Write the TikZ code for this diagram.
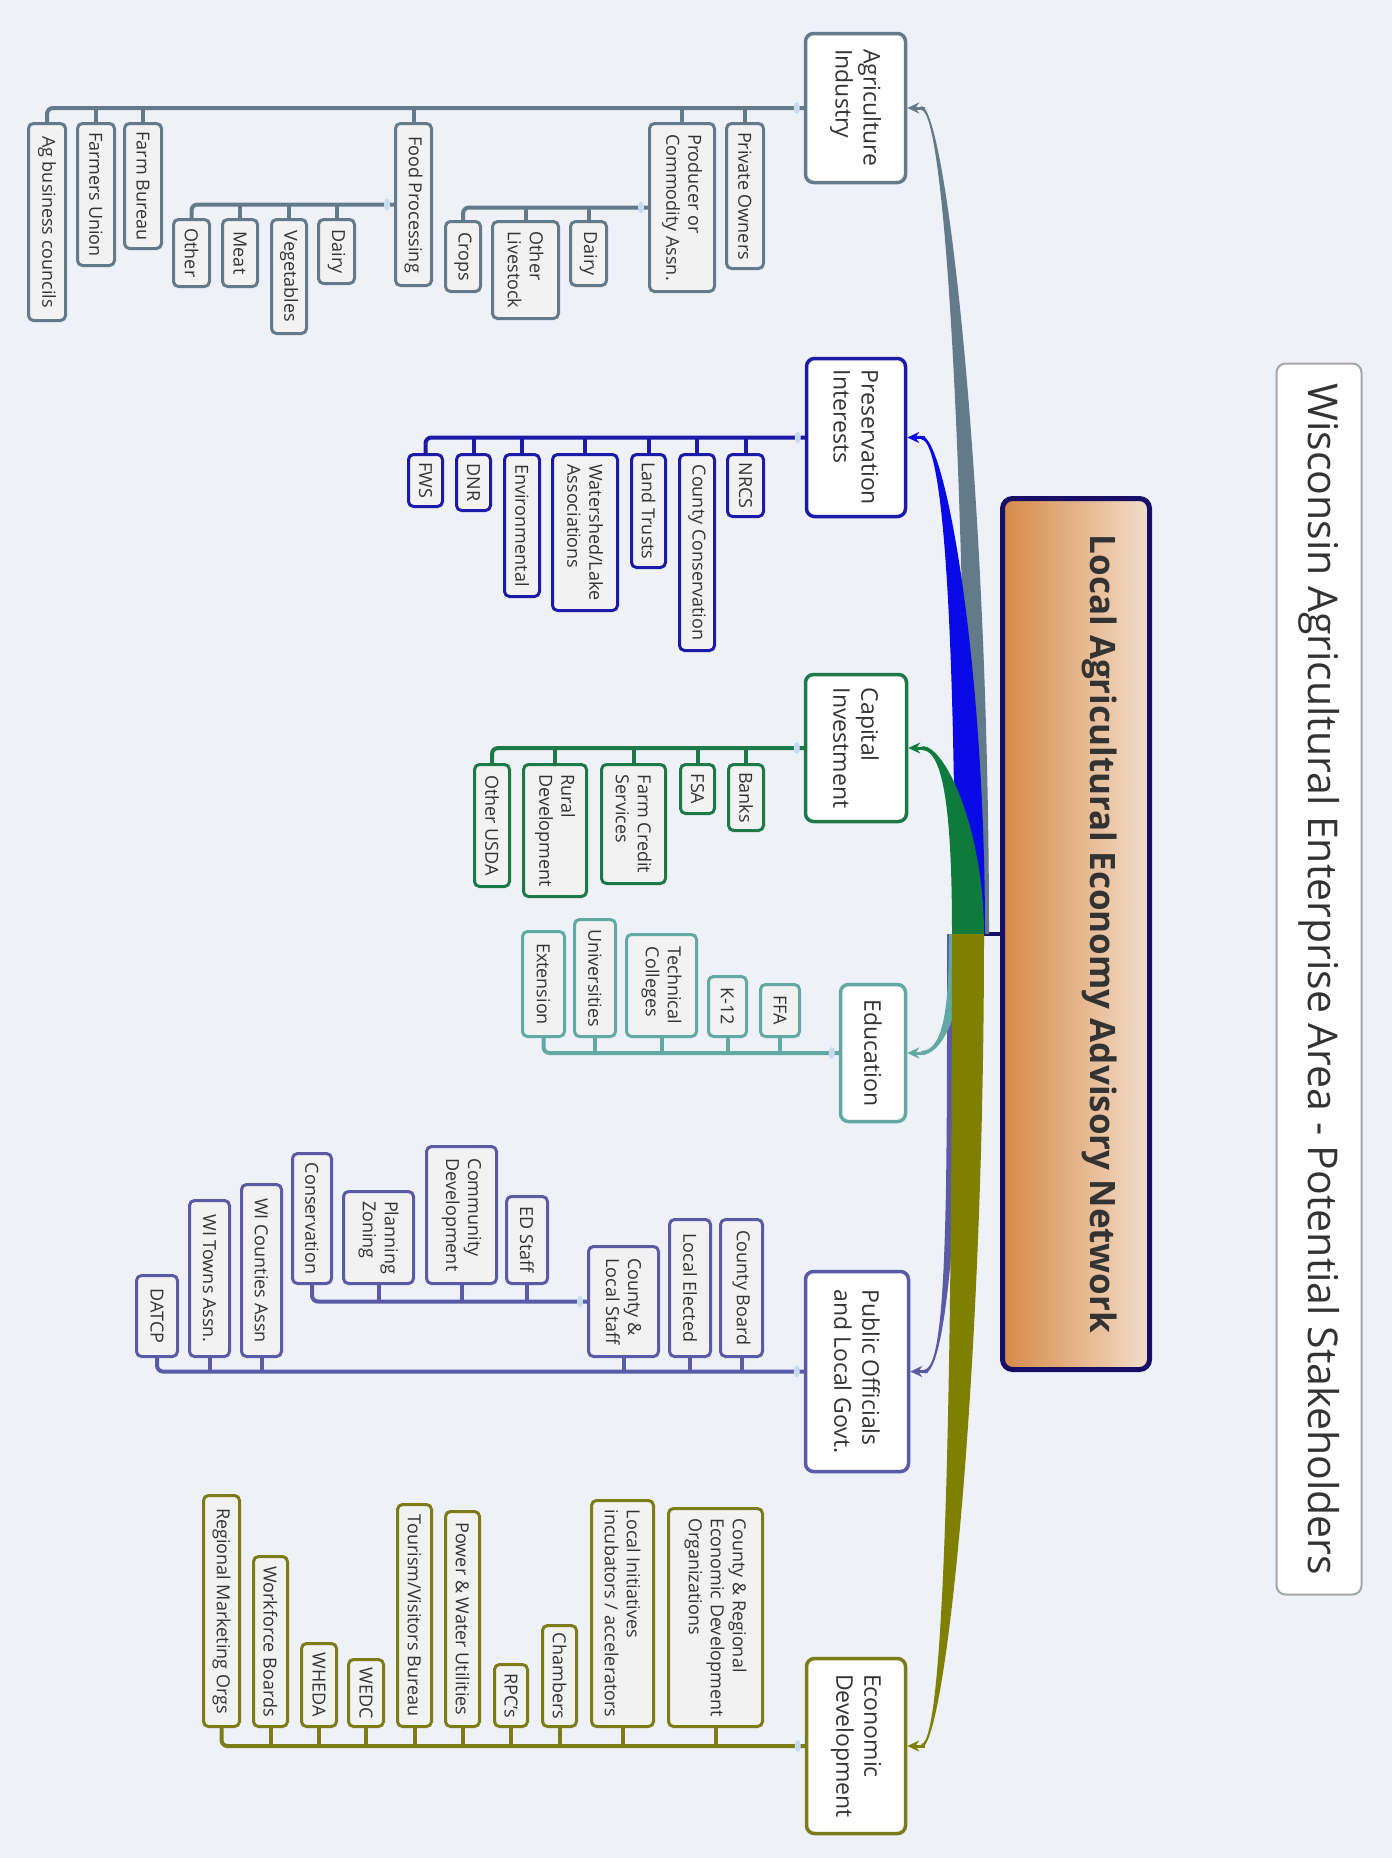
\documentclass[tikz,border=0pt]{standalone}
\usepackage{fontspec}
\setmainfont{Open Sans}
\usepackage{tikz}
\usetikzlibrary{arrows.meta}

\definecolor{paper}{HTML}{EEF1F8}
\definecolor{ink}{HTML}{333333}
\definecolor{frame}{HTML}{A6A6A6}
\definecolor{navy}{HTML}{170F66}
\definecolor{tan}{HTML}{D68947}
\definecolor{peach}{HTML}{F2DECB}
\definecolor{knobcol}{HTML}{C6DBF0}
\definecolor{agcol}{HTML}{627A8A}
\definecolor{prescol}{HTML}{1B1BA8}
\definecolor{presband}{HTML}{0A0AE6}
\definecolor{capcol}{HTML}{1D7A48}
\definecolor{capband}{HTML}{0E7A3C}
\definecolor{educol}{HTML}{62A8A3}
\definecolor{pubcol}{HTML}{5A5AA6}
\definecolor{ecocol}{HTML}{7C7C18}
\definecolor{ecoband}{HTML}{808000}

\tikzset{
  kid/.style={rotate=-90, draw=#1, line width=3pt, rounded corners=5pt, fill=white!95!black,
    inner sep=1pt, align=left, text=ink, font=\fontsize{18}{22}\selectfont},
  topic/.style={rotate=-90, draw=#1, line width=3.5pt, rounded corners=8pt, fill=white,
    inner sep=2pt, align=left, text=ink, font=\fontsize{23}{28}\selectfont},
  dims/.style 2 args={minimum width=#1pt, minimum height=#2pt},
  wire/.style={draw=#1, line width=4pt, rounded corners=6pt},
  pointer/.style={#1, line width=3pt, -{Stealth[length=12pt,width=11pt]}}
}

\begin{document}
\begin{tikzpicture}[x=1pt,y=-1pt]

\fill[paper] (0,0) rectangle (1392,1858);
\useasboundingbox (0,0) rectangle (1392,1858);

\node[rotate=-90, draw=frame, line width=2pt, rounded corners=9pt, fill=white, dims={1231}{85},
  text=ink, font=\fontsize{41}{48}\selectfont] (title) at (1319,979)
  {Wisconsin Agricultural Enterprise Area - Potential Stakeholders};

\node[rotate=-90, draw=navy, line width=5pt, rounded corners=10pt, left color=tan, right color=peach,
  dims={871}{147}, text=ink, font=\bfseries\fontsize{35}{42}\selectfont,
  text height=24pt, text depth=52pt] (network) at (1076,934)
  {Local Agricultural Economy Advisory Network};

\node[topic=agcol, dims={149}{100}] (agri) at (855.5,108) {Agriculture\\Industry};
\node[kid=agcol, dims={145}{37}] (owners) at (745,196) {Private Owners};
\node[kid=agcol, dims={168}{65}] (producer) at (682,207.5) {Producer or\\Commodity Assn.};
\node[kid=agcol, dims={162}{36}] (foodproc) at (413.5,204.5) {Food Processing};
\node[kid=agcol, dims={125}{37}] (bureau) at (143,186) {Farm Bureau};
\node[kid=agcol, dims={142}{37}] (union) at (96,194.5) {Farmers Union};
\node[kid=agcol, dims={197}{37}] (agbiz) at (47,222) {Ag business councils};
\node[kid=agcol, dims={64}{36}] (cdairy) at (588.5,253.5) {Dairy};
\node[kid=agcol, dims={97}{66}] (livestock) at (525.5,270) {Other\\Livestock};
\node[kid=agcol, dims={70}{35}] (crops) at (463,256.5) {Crops};
\node[kid=agcol, dims={64}{36}] (fdairy) at (336.5,251.5) {Dairy};
\node[kid=agcol, dims={114}{35}] (veg) at (289,276.5) {Vegetables};
\node[kid=agcol, dims={67}{35}] (meat) at (240,253) {Meat};
\node[kid=agcol, dims={67}{36}] (fother) at (191.5,253) {Other};

\node[topic=prescol, dims={158}{99}] (pres) at (856,437.5) {Preservation\\Interests};
\node[kid=prescol, dims={62}{36}] (nrcs) at (745.5,485.5) {NRCS};
\node[kid=prescol, dims={196}{35}] (countycons) at (697,552.5) {County Conservation};
\node[kid=prescol, dims={113}{34}] (landtrusts) at (648.5,511) {Land Trusts};
\node[kid=prescol, dims={156}{65}] (watershed) at (585,532.5) {Watershed/Lake\\Associations};
\node[kid=prescol, dims={142}{35}] (environ) at (522,525.5) {Environmental};
\node[kid=prescol, dims={56}{34}] (dnr) at (473.5,482.5) {DNR};
\node[kid=prescol, dims={52}{34}] (fws) at (425.5,480.5) {FWS};

\node[topic=capcol, dims={147}{101}] (capital) at (856,748) {Capital\\Investment};
\node[kid=capcol, dims={66}{35}] (banks) at (746,797.5) {Banks};
\node[kid=capcol, dims={49}{34}] (fsa) at (697.5,789) {FSA};
\node[kid=capcol, dims={119}{64}] (farmcredit) at (633.5,824) {Farm Credit\\Services};
\node[kid=capcol, dims={132}{63}] (rural) at (555,830.5) {Rural\\Development};
\node[kid=capcol, dims={122}{35}] (usda) at (492,825.5) {Other USDA};

\node[topic=educol, dims={137}{65}] (edu) at (873,1053) {Education};
\node[kid=educol, dims={52}{39}] (ffa) at (780,1010.5) {FFA};
\node[kid=educol, dims={60}{38}] (k12) at (727.5,1006.5) {K-12};
\node[kid=educol, dims={102}{70}] (technical) at (661.5,985.5) {Technical\\Colleges};
\node[kid=educol, dims={117}{41}] (univ) at (595,978) {Universities};
\node[kid=educol, dims={105}{42}] (extension) at (543.5,984) {Extension};

\node[topic=pubcol, dims={200}{103}] (pub) at (857,1371.5) {Public Officials\\and Local Govt.};
\node[kid=pubcol, dims={137}{42}] (cboard) at (741.5,1288) {County Board};
\node[kid=pubcol, dims={137}{41}] (lelected) at (690,1288) {Local Elected};
\node[kid=pubcol, dims={110}{70}] (clstaff) at (623.5,1301.5) {County \&\\Local Staff};
\node[kid=pubcol, dims={172}{40}] (wicounties) at (261.5,1270.5) {WI Counties Assn};
\node[kid=pubcol, dims={156}{40}] (witowns) at (209.5,1278.5) {WI Towns Assn.};
\node[kid=pubcol, dims={81}{41}] (datcp) at (157,1316) {DATCP};
\node[kid=pubcol, dims={87}{41}] (edstaff) at (527,1240) {ED Staff};
\node[kid=pubcol, dims={137}{70}] (commdev) at (461.5,1215) {Community\\Development};
\node[kid=pubcol, dims={92}{70}] (planning) at (378.5,1237.5) {Planning\\Zoning};
\node[kid=pubcol, dims={130}{39}] (conservation) at (312,1218.5) {Conservation};

\node[topic=ecocol, dims={175}{99}] (eco) at (856,1746) {Economic\\Development};
\node[kid=ecocol, dims={218}{94}] (credo) at (715.5,1617.5) {County \& Regional\\Economic Development\\Organizations};
\node[kid=ecocol, dims={226}{62}] (localinit) at (622.5,1613.5) {Local Initiatives\\incubators / accelerators};
\node[kid=ecocol, dims={101}{34}] (chambers) at (559.5,1676) {Chambers};
\node[kid=ecocol, dims={62}{33}] (rpcs) at (511,1695.5) {RPC's};
\node[kid=ecocol, dims={215}{34}] (power) at (462.5,1619) {Power \& Water Utilities};
\node[kid=ecocol, dims={222}{34}] (tourism) at (414.5,1615.5) {Tourism/Visitors Bureau};
\node[kid=ecocol, dims={67}{35}] (wedc) at (366,1693) {WEDC};
\node[kid=ecocol, dims={83}{35}] (wheda) at (319,1685) {WHEDA};
\node[kid=ecocol, dims={170}{34}] (workforce) at (270.5,1641.5) {Workforce Boards};
\node[kid=ecocol, dims={231}{36}] (regmkt) at (221.5,1611) {Regional Marketing Orgs};

\draw[wire=agcol] (agri.south) -| (agbiz.west);
\draw[wire=agcol] (owners.west) -- (owners.west |- agri.south);
\draw[wire=agcol] (producer.west) -- (producer.west |- agri.south);
\draw[wire=agcol] (foodproc.west) -- (foodproc.west |- agri.south);
\draw[wire=agcol] (bureau.west) -- (bureau.west |- agri.south);
\draw[wire=agcol] (union.west) -- (union.west |- agri.south);
\draw[wire=agcol] (producer.south) -| (crops.west);
\draw[wire=agcol] (cdairy.west) -- (cdairy.west |- producer.south);
\draw[wire=agcol] (livestock.west) -- (livestock.west |- producer.south);
\draw[wire=agcol] (foodproc.south) -| (fother.west);
\draw[wire=agcol] (fdairy.west) -- (fdairy.west |- foodproc.south);
\draw[wire=agcol] (veg.west) -- (veg.west |- foodproc.south);
\draw[wire=agcol] (meat.west) -- (meat.west |- foodproc.south);

\draw[wire=prescol] (pres.south) -| (fws.west);
\draw[wire=prescol] (nrcs.west) -- (nrcs.west |- pres.south);
\draw[wire=prescol] (countycons.west) -- (countycons.west |- pres.south);
\draw[wire=prescol] (landtrusts.west) -- (landtrusts.west |- pres.south);
\draw[wire=prescol] (watershed.west) -- (watershed.west |- pres.south);
\draw[wire=prescol] (environ.west) -- (environ.west |- pres.south);
\draw[wire=prescol] (dnr.west) -- (dnr.west |- pres.south);

\draw[wire=capcol] (capital.south) -| (usda.west);
\draw[wire=capcol] (banks.west) -- (banks.west |- capital.south);
\draw[wire=capcol] (fsa.west) -- (fsa.west |- capital.south);
\draw[wire=capcol] (farmcredit.west) -- (farmcredit.west |- capital.south);
\draw[wire=capcol] (rural.west) -- (rural.west |- capital.south);

\draw[wire=educol] (edu.south) -| (extension.east);
\draw[wire=educol] (ffa.east) -- (ffa.east |- edu.south);
\draw[wire=educol] (k12.east) -- (k12.east |- edu.south);
\draw[wire=educol] (technical.east) -- (technical.east |- edu.south);
\draw[wire=educol] (univ.east) -- (univ.east |- edu.south);

\draw[wire=pubcol] (pub.south) -| (datcp.east);
\draw[wire=pubcol] (cboard.east) -- (cboard.east |- pub.south);
\draw[wire=pubcol] (lelected.east) -- (lelected.east |- pub.south);
\draw[wire=pubcol] (clstaff.east) -- (clstaff.east |- pub.south);
\draw[wire=pubcol] (wicounties.east) -- (wicounties.east |- pub.south);
\draw[wire=pubcol] (witowns.east) -- (witowns.east |- pub.south);
\draw[wire=pubcol] (clstaff.south) -| (conservation.east);
\draw[wire=pubcol] (edstaff.east) -- (edstaff.east |- clstaff.south);
\draw[wire=pubcol] (commdev.east) -- (commdev.east |- clstaff.south);
\draw[wire=pubcol] (planning.east) -- (planning.east |- clstaff.south);

\draw[wire=ecocol] (eco.south) -| (regmkt.east);
\draw[wire=ecocol] (credo.east) -- (credo.east |- eco.south);
\draw[wire=ecocol] (localinit.east) -- (localinit.east |- eco.south);
\draw[wire=ecocol] (chambers.east) -- (chambers.east |- eco.south);
\draw[wire=ecocol] (rpcs.east) -- (rpcs.east |- eco.south);
\draw[wire=ecocol] (power.east) -- (power.east |- eco.south);
\draw[wire=ecocol] (tourism.east) -- (tourism.east |- eco.south);
\draw[wire=ecocol] (wedc.east) -- (wedc.east |- eco.south);
\draw[wire=ecocol] (wheda.east) -- (wheda.east |- eco.south);
\draw[wire=ecocol] (workforce.east) -- (workforce.east |- eco.south);

\coordinate (hub) at (981,934);
\draw[navy, line width=4pt] (network.south) -- (hub);

\fill[agcol] ([xshift=14pt,yshift=2pt]agri.north) .. controls ([xshift=38pt,yshift=2pt]agri.north) and (989,480) .. (989,934)
  -- (966,934) .. controls (966,480) and ([xshift=38pt,yshift=-2pt]agri.north) .. ([xshift=14pt,yshift=-2pt]agri.north) -- cycle;
\draw[pointer=agcol] ([xshift=18pt]agri.north) -- (agri.north);

\fill[presband] ([xshift=14pt,yshift=2pt]pres.north) .. controls ([xshift=38pt,yshift=2pt]pres.north) and (985,661) .. (985,934)
  -- (955,934) .. controls (955,661) and ([xshift=38pt,yshift=-2pt]pres.north) .. ([xshift=14pt,yshift=-2pt]pres.north) -- cycle;
\draw[pointer=presband] ([xshift=18pt]pres.north) -- (pres.north);

\fill[capband] ([xshift=14pt,yshift=2pt]capital.north) .. controls ([xshift=38pt,yshift=2pt]capital.north) and (984,832) .. (984,934)
  -- (952,934) .. controls (952,832) and ([xshift=38pt,yshift=-2pt]capital.north) .. ([xshift=14pt,yshift=-2pt]capital.north) -- cycle;
\draw[pointer=capband] ([xshift=18pt]capital.north) -- (capital.north);

\fill[pubcol] ([xshift=14pt,yshift=2pt]pub.north) .. controls ([xshift=38pt,yshift=2pt]pub.north) and (947,1174) .. (947,934)
  -- (962,934) .. controls (962,1174) and ([xshift=38pt,yshift=-2pt]pub.north) .. ([xshift=14pt,yshift=-2pt]pub.north) -- cycle;
\draw[pointer=pubcol] ([xshift=18pt]pub.north) -- (pub.north);

\fill[educol] ([xshift=14pt,yshift=2pt]edu.north) .. controls ([xshift=38pt,yshift=2pt]edu.north) and (949,999) .. (949,934)
  -- (966,934) .. controls (966,999) and ([xshift=38pt,yshift=-2pt]edu.north) .. ([xshift=14pt,yshift=-2pt]edu.north) -- cycle;
\draw[pointer=educol] ([xshift=18pt]edu.north) -- (edu.north);

\fill[ecoband] ([xshift=14pt,yshift=2pt]eco.north) .. controls ([xshift=38pt,yshift=2pt]eco.north) and (952,1381) .. (952,934)
  -- (984,934) .. controls (984,1381) and ([xshift=38pt,yshift=-2pt]eco.north) .. ([xshift=14pt,yshift=-2pt]eco.north) -- cycle;
\draw[pointer=ecoband] ([xshift=18pt]eco.north) -- (eco.north);

\fill[knobcol] ([xshift=-7pt]agri.south) ellipse [x radius=3pt, y radius=6pt];
\fill[knobcol] ([xshift=-7pt]producer.south) ellipse [x radius=3pt, y radius=6pt];
\fill[knobcol] ([xshift=-7pt]foodproc.south) ellipse [x radius=3pt, y radius=6pt];
\fill[knobcol] ([xshift=-7pt]pres.south) ellipse [x radius=3pt, y radius=6pt];
\fill[knobcol] ([xshift=-7pt]capital.south) ellipse [x radius=3pt, y radius=6pt];
\fill[knobcol] ([xshift=-7pt]edu.south) ellipse [x radius=3pt, y radius=6pt];
\fill[knobcol] ([xshift=-7pt]pub.south) ellipse [x radius=3pt, y radius=6pt];
\fill[knobcol] ([xshift=-7pt]clstaff.south) ellipse [x radius=3pt, y radius=6pt];
\fill[knobcol] ([xshift=-7pt]eco.south) ellipse [x radius=3pt, y radius=6pt];

\end{tikzpicture}
\end{document}
